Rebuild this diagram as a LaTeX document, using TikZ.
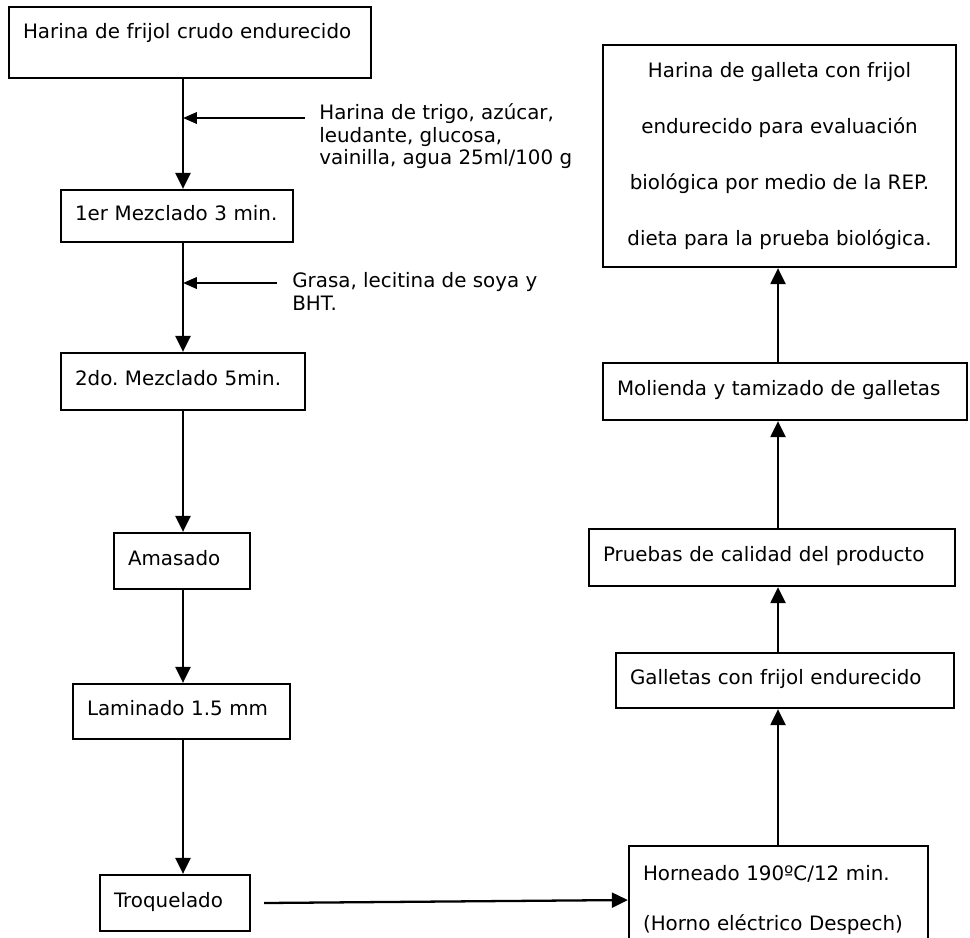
\documentclass[tikz,border=0pt]{standalone}
\usepackage{fontspec}
\setmainfont{DejaVu Sans}
\usetikzlibrary{arrows.meta}
\frenchspacing

\tikzset{
  caja/.style={draw,line width=1.3pt,inner xsep=8pt,inner ysep=0pt},
  paso/.style={caja,align=left,text height=8.6pt,text depth=3.8pt},
  nota/.style={anchor=north west,inner sep=0pt,align=left,font=\fontsize{11.3}{13}\selectfont},
  flecha/.style={line width=1.3pt,-{Triangle[length=3.2mm,width=3mm]}},
  entra/.style={line width=1.3pt,-{Triangle[length=2.8mm,width=2.3mm]}}
}

\begin{document}
\begin{tikzpicture}[x=0.02cm,y=-0.02cm,font=\fontsize{11.3}{13.5}\selectfont]
\clip (0,0) rectangle (970,937);
\fill[white] (0,0) rectangle (970,937);

% left column
\node[paso,text depth=13.4pt,text width=6.68cm,minimum height=1.42cm] (frijol) at (190,42.5) {Harina de frijol crudo endurecido};
\node[paso,text width=4.08cm,minimum height=1.04cm] (mezcla1) at (177,216) {1er Mezclado 3 min.};
\node[paso,text width=4.32cm,minimum height=1.14cm] (mezcla2) at (183,381.5) {2do. Mezclado 5min.};
\node[paso,text width=2.16cm,minimum height=1.12cm] (amasado) at (182,561) {Amasado};
\node[paso,text width=3.78cm,minimum height=1.10cm] (laminado) at (181.5,711.5) {Laminado 1.5 mm};
\node[paso,text width=2.44cm,minimum height=1.12cm] (troquelado) at (175,903) {Troquelado};

% ingredients
\node[nota] (ingred1) at (319,103) {Harina de trigo, azúcar,\\leudante, glucosa,\\vainilla, agua 25ml/100 g};
\node[nota] (ingred2) at (292,272) {Grasa, lecitina de soya y\\BHT.};

% right column
\node[caja,align=left,text width=5.42cm,minimum height=2.16cm,font=\fontsize{11.3}{28.5}\selectfont] (horneado) at (778.5,900) {Horneado 190ºC/12 min.\\(Horno eléctrico Despech)};
\node[paso,text width=6.20cm,minimum height=1.10cm] (galletas) at (785,680.5) {Galletas con frijol endurecido};
\node[paso,text width=6.76cm,minimum height=1.14cm] (pruebas) at (772,557.5) {Pruebas de calidad del producto};
\node[paso,text width=6.72cm,minimum height=1.14cm] (molienda) at (785,391.5) {Molienda y tamizado de galletas};
\node[caja,align=center,minimum width=7.06cm,minimum height=4.44cm,font=\fontsize{11.3}{31.9}\selectfont] (dieta) at (779.5,156) {Harina de galleta con frijol\\endurecido para evaluación\\biológica por medio de la REP.\\dieta para la prueba biológica.};

\coordinate (lx) at (183,0);
\coordinate (rx) at (778,0);
\coordinate (ent1) at (305,118);
\coordinate (ent2) at (277,283);

\draw[flecha] (frijol.south -| lx) -- (mezcla1.north -| lx);
\draw[entra] (ent1) -- (ent1 -| lx);
\draw[flecha] (mezcla1.south -| lx) -- (mezcla2.north -| lx);
\draw[entra] (ent2) -- (ent2 -| lx);
\draw[flecha] (mezcla2.south -| lx) -- (amasado.north -| lx);
\draw[flecha] (amasado.south -| lx) -- (laminado.north -| lx);
\draw[flecha] (laminado.south -| lx) -- (troquelado.north -| lx);
\draw[flecha] ([xshift=0.26cm]troquelado.east) -- (horneado.west);
\draw[flecha] (horneado.north -| rx) -- (galletas.south -| rx);
\draw[flecha] (galletas.north -| rx) -- (pruebas.south -| rx);
\draw[flecha] (pruebas.north -| rx) -- (molienda.south -| rx);
\draw[flecha] (molienda.north -| rx) -- (dieta.south -| rx);
\end{tikzpicture}
\end{document}
